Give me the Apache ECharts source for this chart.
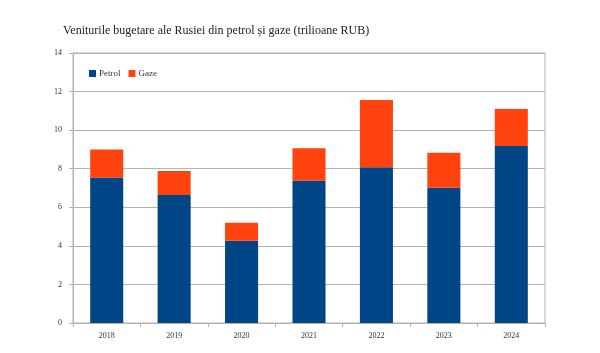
<!DOCTYPE html>
<html><head><meta charset="utf-8">
<script src="https://cdn.jsdelivr.net/npm/echarts@6/dist/echarts.min.js"></script>
<style>html,body{margin:0;padding:0;background:#fff}#c{width:600px;height:353px}</style>
</head><body><div id="c"></div>
<script>
const categories = ['2018','2019','2020','2021','2022','2023','2024'];
const petrol = [7.55, 6.64, 4.27, 7.38, 8.07, 7.01, 9.18];
const gaze = [1.45, 1.24, 0.93, 1.68, 3.49, 1.82, 1.91];
const yTicks = [0, 2, 4, 6, 8, 10, 12, 14];
const titleText = 'Veniturile bugetare ale Rusiei din petrol și gaze (trilioane RUB)';

const chart = echarts.init(document.getElementById('c'), null, {renderer:'canvas'});
const font = '"Liberation Serif", "DejaVu Serif", serif';
chart.setOption({
  animation:false,
  backgroundColor:'#fff',
  title:{text:titleText,left:58,top:20,textStyle:{fontFamily:font,fontSize:12,fontWeight:'normal',color:'#222'}},
  legend:{left:84,top:64,itemWidth:7,itemHeight:7,itemGap:8,icon:'rect',
    textStyle:{fontFamily:font,fontSize:9,color:'#333',padding:[0,0,0,-2]},
    data:['Petrol','Gaze']},
  grid:{left:73,right:55,top:53,bottom:30,show:true,borderColor:'#b3b3b3',borderWidth:1},
  xAxis:{type:'category',data:categories,
    axisLine:{lineStyle:{color:'#b3b3b3'}},
    axisTick:{show:true,length:4,lineStyle:{color:'#b3b3b3'}},
    axisLabel:{fontFamily:font,fontSize:8,color:'#333',margin:9}},
  yAxis:{type:'value',min:0,max:14,interval:2,
    axisLine:{show:true,lineStyle:{color:'#b3b3b3'}},
    axisTick:{show:true,length:4,lineStyle:{color:'#b3b3b3'}},
    splitLine:{lineStyle:{color:'#b3b3b3'}},
    axisLabel:{fontFamily:font,fontSize:8,color:'#333',margin:11,
      formatter:v=>yTicks.includes(v)?String(v):''}},
  series:[
    {name:'Petrol',type:'bar',stack:'a',data:petrol,barWidth:'49%',itemStyle:{color:'#004586'}},
    {name:'Gaze',type:'bar',stack:'a',data:gaze,barWidth:'49%',itemStyle:{color:'#ff420e'}}
  ]
});
</script></body></html>
